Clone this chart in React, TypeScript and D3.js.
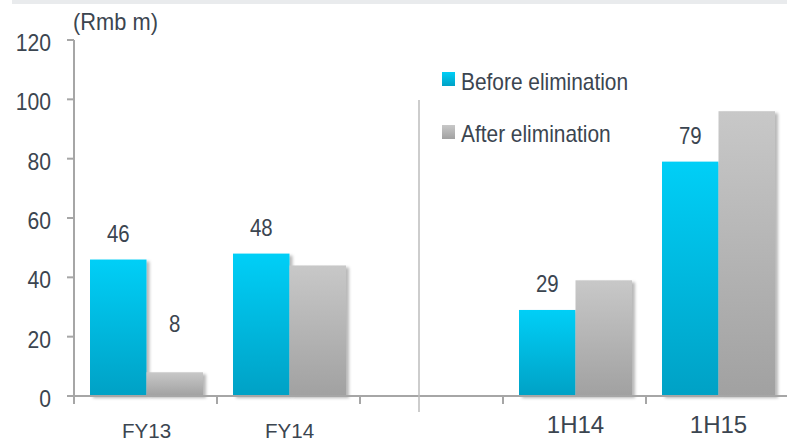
import React from "react";
import * as d3 from "d3";

const categories = ["FY13", "FY14", "", "1H14", "1H15"];
const seriesNames = ["Before elimination", "After elimination"];
const beforeValues: (number | null)[] = [46, 48, null, 29, 79];
const afterValues: (number | null)[] = [8, 44, null, 39, 96];
const beforeLabels = [true, true, false, true, true];
const afterLabels = [true, false, false, false, false];
const yTicks = [0, 20, 40, 60, 80, 100, 120];
const unitLabel = "(Rmb m)";

const W = 787;
const H = 443;
const TEXT = "#3b4550";
const FONT = "'Liberation Sans', Arial, sans-serif";

function SText({ x, y, sx = 0.88, anchor = "start", size, children }: any) {
  return (
    <text
      transform={`translate(${x},${y}) scale(${sx},1)`}
      textAnchor={anchor}
      fontSize={size}
      fill={TEXT}
    >
      {children}
    </text>
  );
}

export default function App() {
  const y = d3.scaleLinear().domain([0, 120]).range([396, 40]);
  const keys = categories.map((c, i) => `k${i}`);
  const x = d3.scaleBand<string>().domain(keys).range([74, 789]).padding(0);
  const sub = d3.scaleBand<string>().domain(["b", "a"]).range([16, 129]).padding(0);
  const bw = sub.bandwidth();

  const bars: { key: string; s: string; v: number; label: boolean }[] = [];
  categories.forEach((c, i) => {
    if (beforeValues[i] != null) bars.push({ key: keys[i], s: "b", v: beforeValues[i] as number, label: beforeLabels[i] });
    if (afterValues[i] != null) bars.push({ key: keys[i], s: "a", v: afterValues[i] as number, label: afterLabels[i] });
  });

  const tickXs = keys.slice(1).map((k) => x(k) as number);

  return (
    <svg width={W} height={H} style={{ position: "absolute", left: 0, top: 0, background: "#fff" }} fontFamily={FONT}>
      <defs>
        <linearGradient id="gb" x1="0" y1="0" x2="0" y2="1">
          <stop offset="0" stopColor="#00cff7" />
          <stop offset="1" stopColor="#00a1c5" />
        </linearGradient>
        <linearGradient id="ga" x1="0" y1="0" x2="0" y2="1">
          <stop offset="0" stopColor="#c8c8c8" />
          <stop offset="1" stopColor="#a1a1a1" />
        </linearGradient>
        <filter id="sh" x="-20%" y="-20%" width="150%" height="150%">
          <feDropShadow dx="3" dy="2" stdDeviation="1.8" floodColor="#000" floodOpacity="0.28" />
        </filter>
      </defs>
      <rect x={12} y={0} width={W - 12} height={4} fill="#e9ebed" />

      <SText x={73} y={30} size={23} sx={0.95}>{unitLabel}</SText>

      {/* y axis */}
      <line x1={74} x2={74} y1={40} y2={404} stroke="#a6a6a6" strokeWidth={2} />
      {yTicks.map((t) => (
        <g key={t}>
          <line x1={67} x2={74} y1={y(t)} y2={y(t)} stroke="#a6a6a6" strokeWidth={2} />
          <SText x={51} y={y(t) + 11} anchor="end" size={24}>
            {t}
          </SText>
        </g>
      ))}

      {/* bars */}
      {bars.map((b, i) => {
        const bx = (x(b.key) as number) + (sub(b.s) as number);
        return (
          <rect
            key={i}
            x={bx}
            y={y(b.v)}
            width={bw}
            height={y(0) - y(b.v)}
            fill={b.s === "b" ? "url(#gb)" : "url(#ga)"}
            filter="url(#sh)"
          />
        );
      })}

      {/* x axis */}
      <line x1={67} x2={W} y1={y(0)} y2={y(0)} stroke="#a6a6a6" strokeWidth={2} />
      {tickXs.map((tx, i) => (
        <line key={i} x1={tx} x2={tx} y1={y(0)} y2={404} stroke="#a6a6a6" strokeWidth={2} />
      ))}

      {/* divider */}
      <line x1={419} x2={419} y1={100} y2={412} stroke="#bdbdbd" strokeWidth={1.5} />

      {/* value labels */}
      {bars.filter((b) => b.label).map((b, i) => {
        const cx = (x(b.key) as number) + (sub(b.s) as number) + bw / 2;
        const off = b.v < 15 ? 40 : 18;
        return (
          <SText key={i} x={cx} y={y(b.v) - off} anchor="middle" size={24} sx={0.85}>
            {b.v}
          </SText>
        );
      })}

      {/* category labels */}
      {categories.map((c, i) => {
        if (!c) return null;
        const cx = (x(keys[i]) as number) + (sub.range()[0] + sub.range()[1]) / 2;
        const big = i >= 3;
        return (
          <SText key={i} x={cx} y={big ? 433 : 438} anchor="middle" size={big ? 24 : 21} sx={big ? 1 : 0.98}>
            {c}
          </SText>
        );
      })}

      {/* legend */}
      {seriesNames.map((n, i) => (
        <g key={n}>
          <rect x={442} y={72 + i * 53} width={13} height={14} fill={i === 0 ? "url(#gb)" : "url(#ga)"} />
          <SText x={461} y={90 + i * 52} size={24} sx={0.87}>
            {n}
          </SText>
        </g>
      ))}
    </svg>
  );
}
